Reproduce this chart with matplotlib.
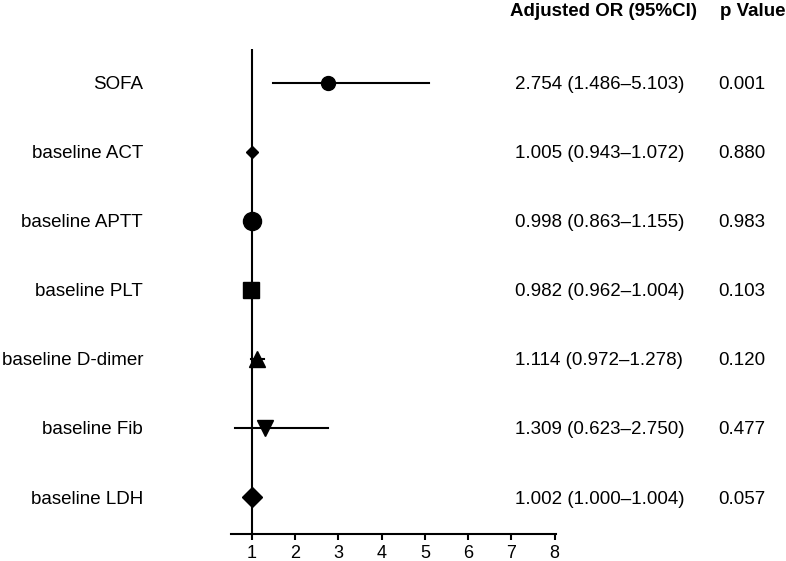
import matplotlib.pyplot as plt
from matplotlib.transforms import blended_transform_factory

plt.rcParams['font.family'] = ['Liberation Sans', 'DejaVu Sans']

# Data
variables = ["SOFA", "baseline ACT", "baseline APTT", "baseline PLT",
             "baseline D-dimer", "baseline Fib", "baseline LDH"]
odds_ratio = [2.754, 1.005, 0.998, 0.982, 1.114, 1.309, 1.002]
ci_low = [1.486, 0.943, 0.863, 0.962, 0.972, 0.623, 1.000]
ci_high = [5.103, 1.072, 1.155, 1.004, 1.278, 2.750, 1.004]
p_values = ["0.001", "0.880", "0.983", "0.103", "0.120", "0.477", "0.057"]
x_ticks = [1, 2, 3, 4, 5, 6, 7, 8]

markers = ["o", "D", "o", "s", "^", "v", "D"]
msizes = [10, 6.5, 13, 12, 11, 12, 10]

W, H = 786, 561
fig = plt.figure(figsize=(W / 100, H / 100), dpi=100)
ax = fig.add_axes([231 / W, 1 - 534 / H, (556 - 231) / W, (534 - 49) / H])

n = len(variables)
ypos = list(range(n, 0, -1))
fs = 13.5

# figure-x / data-y transform for the text columns
tr = blended_transform_factory(fig.transFigure, ax.transData)

# reference line at OR = 1
ax.axvline(1, color="black", lw=1.5, zorder=1)

for i in range(n):
    y = ypos[i]
    ax.plot([ci_low[i], ci_high[i]], [y, y], color="black", lw=1.5, zorder=2)
    ax.plot(odds_ratio[i], y, marker=markers[i], ms=msizes[i],
            color="black", zorder=3)
    ax.text(143 / W, y, variables[i], transform=tr, ha="right",
            va="center_baseline", fontsize=fs, clip_on=False)
    ax.text(515 / W, y,
            f"{odds_ratio[i]:.3f} ({ci_low[i]:.3f}\u2013{ci_high[i]:.3f})",
            transform=tr, ha="left", va="center_baseline", fontsize=fs,
            clip_on=False)
    ax.text(718 / W, y, p_values[i], transform=tr, ha="left",
            va="center_baseline", fontsize=fs, clip_on=False)

fig.text(510 / W, 1 - 12 / H, "Adjusted OR (95%CI)", ha="left", va="center",
         fontsize=fs, fontweight="bold")
fig.text(720 / W, 1 - 12 / H, "p Value", ha="left", va="center",
         fontsize=fs, fontweight="bold")

ax.set_xlim(0.52, 8.03)
ax.set_ylim(0.464, n + 0.49)
ax.set_xticks(x_ticks)
ax.set_xticklabels([str(t) for t in x_ticks], fontsize=13)
ax.set_yticks([])
for s in ["top", "right", "left"]:
    ax.spines[s].set_visible(False)
ax.spines["bottom"].set_linewidth(1.5)
ax.tick_params(axis="x", length=4, width=1.5, pad=4)

fig.savefig("out.png", dpi=100)
